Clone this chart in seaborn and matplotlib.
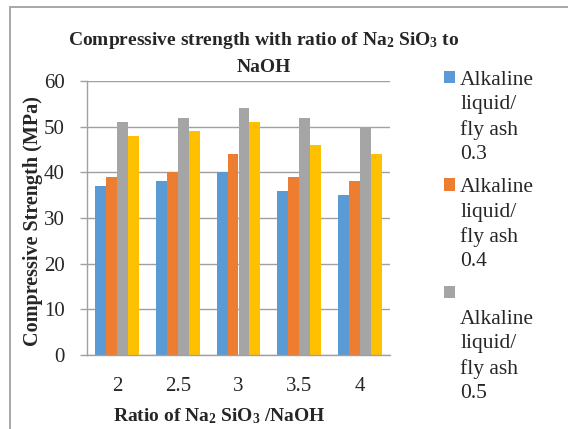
import pandas as pd
import matplotlib.pyplot as plt
import matplotlib.patches as mpatches
import seaborn as sns

# data
ratios = ["2", "2.5", "3", "3.5", "4"]
series = ["Alkaline liquid/fly ash 0.3", "Alkaline liquid/fly ash 0.4",
          "Alkaline liquid/fly ash 0.5", "Alkaline liquid/fly ash 0.6"]
s03 = [37, 38, 40, 36, 35]
s04 = [39, 40, 44, 39, 38]
s05 = [51, 52, 54, 52, 50]
s06 = [48, 49, 51, 46, 44]
colors = ["#5B9BD5", "#ED7D31", "#A5A5A5", "#FFC000"]
legend_labels = ["Alkaline\nliquid/\nfly ash\n0.3",
                 "Alkaline\nliquid/\nfly ash\n0.4",
                 "\nAlkaline\nliquid/\nfly ash\n0.5"]

rows = []
for name, vals in zip(series, [s03, s04, s05, s06]):
    for r, v in zip(ratios, vals):
        rows.append({"ratio": r, "strength": v, "series": name})
df = pd.DataFrame(rows)

sns.set_theme(style="white")
plt.rcParams["font.family"] = ["Liberation Serif", "DejaVu Serif"]
plt.rcParams["mathtext.fontset"] = "custom"
plt.rcParams["mathtext.rm"] = "Liberation Serif:bold"
plt.rcParams["mathtext.it"] = "Liberation Serif:bold"
plt.rcParams["mathtext.bf"] = "Liberation Serif:bold"

fig = plt.figure(figsize=(5.68, 4.29), dpi=100)
ax = fig.add_axes([87 / 568, 1 - 355 / 429, 303 / 568, 274 / 429])

sns.barplot(data=df, x="ratio", y="strength", hue="series", palette=colors,
            width=0.72, saturation=1, linewidth=0, ax=ax)
ax.get_legend().remove()

grid_c = "#a0a0a0"
ax.set_ylim(0, 60)
ax.set_yticks(range(0, 61, 10))
ax.set_xlim(-0.5, 4.5)
ax.set_axisbelow(True)
ax.yaxis.grid(True, color=grid_c, linewidth=1)
for s in ["top", "right"]:
    ax.spines[s].set_visible(False)
for s in ["left", "bottom"]:
    ax.spines[s].set_color(grid_c)
    ax.spines[s].set_linewidth(1)
ax.tick_params(axis="y", left=True, length=5, color=grid_c, width=1, pad=11, labelsize=15)
ax.tick_params(axis="x", bottom=False, pad=10, labelsize=15)

ax.set_ylabel("Compressive Strength (MPa)", fontsize=14.5, fontweight="bold")
ax.set_xlabel(r"Ratio of Na$_2$ SiO$_3$ /NaOH", fontsize=14, fontweight="bold")
ax.yaxis.set_label_coords((43 - 87) / 303, 0.49)
ax.xaxis.set_label_coords((219 - 87) / 303, (355 - 406) / 274)

fig.text(264 / 568, 1 - 53 / 429,
         "Compressive strength with ratio of Na$_2$ SiO$_3$ to\nNaOH",
         ha="center", va="center", multialignment="center",
         fontsize=14, fontweight="bold", linespacing=1.55)

handles, _ = ax.get_legend_handles_labels()
leg = fig.legend(handles[:3], legend_labels, loc="upper left",
                 bbox_to_anchor=(444 / 568, 1 - 71 / 429), frameon=False,
                 fontsize=15.5, handlelength=0.5, handleheight=0.5,
                 handletextpad=0.25, labelspacing=0.68, borderpad=0,
                 borderaxespad=0)
for t in leg.get_texts():
    t.set_linespacing(1.37)
for col in leg._legend_handle_box.get_children():
    for row in col.get_children():
        row.align = "top"

# chart-area border (partly cut off in the original)
fig.patches.append(mpatches.Rectangle((9.5 / 568, -0.2), 1.2, 1 - 7 / 429 + 0.2,
                                      transform=fig.transFigure, fill=False,
                                      edgecolor=grid_c, linewidth=1.3))

fig.savefig("out.png", dpi=100)
